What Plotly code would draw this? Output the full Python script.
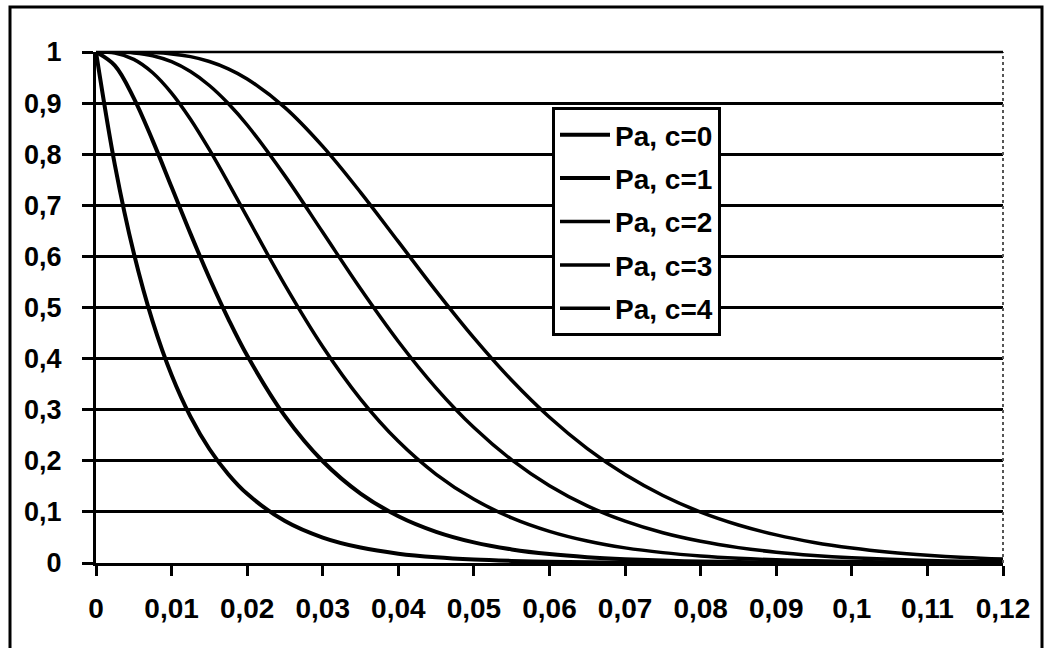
import plotly.graph_objects as go

# Fraction defective p
p = [0, 0.0025, 0.005, 0.0075, 0.01, 0.0125, 0.015, 0.0175, 0.02, 0.025, 0.03, 0.035,
     0.04, 0.045, 0.05, 0.055, 0.06, 0.065, 0.07, 0.075, 0.08, 0.085, 0.09, 0.095,
     0.1, 0.105, 0.11, 0.115, 0.12]

# Probability of acceptance for acceptance numbers c = 0..4
pa_c0 = [1, 0.7788, 0.6065, 0.4724, 0.3679, 0.2865, 0.2231, 0.1738, 0.1353, 0.0821, 0.0498, 0.0302,
         0.0183, 0.0111, 0.0067, 0.0041, 0.0025, 0.0015, 0.0009, 0.0006, 0.0003, 0.0002, 0.0001, 0.0001,
         0, 0, 0, 0, 0]
pa_c1 = [1, 0.9735, 0.9098, 0.8266, 0.7358, 0.6446, 0.5578, 0.4779, 0.4060, 0.2873, 0.1991, 0.1359,
         0.0916, 0.0611, 0.0404, 0.0266, 0.0174, 0.0113, 0.0073, 0.0047, 0.0030, 0.0019, 0.0012, 0.0008,
         0.0005, 0.0003, 0.0002, 0.0001, 0.0001]
pa_c2 = [1, 0.9978, 0.9856, 0.9595, 0.9197, 0.8685, 0.8088, 0.7440, 0.6767, 0.5438, 0.4232, 0.3208,
         0.2381, 0.1736, 0.1247, 0.0884, 0.0620, 0.0430, 0.0296, 0.0203, 0.0138, 0.0093, 0.0062, 0.0042,
         0.0028, 0.0018, 0.0012, 0.0008, 0.0005]
pa_c3 = [1, 0.9999, 0.9982, 0.9927, 0.9810, 0.9617, 0.9344, 0.8992, 0.8571, 0.7576, 0.6472, 0.5366,
         0.4335, 0.3423, 0.2650, 0.2017, 0.1512, 0.1118, 0.0818, 0.0591, 0.0424, 0.0301, 0.0212, 0.0149,
         0.0103, 0.0071, 0.0049, 0.0034, 0.0023]
pa_c4 = [1, 1.0, 0.9998, 0.9989, 0.9963, 0.9909, 0.9814, 0.9671, 0.9473, 0.8912, 0.8153, 0.7254,
         0.6288, 0.5321, 0.4405, 0.3575, 0.2851, 0.2237, 0.1730, 0.1321, 0.0996, 0.0744, 0.0550, 0.0403,
         0.0293, 0.0211, 0.0151, 0.0107, 0.0076]

series_names = ["Pa, c=0", "Pa, c=1", "Pa, c=2", "Pa, c=3", "Pa, c=4"]
series_values = [pa_c0, pa_c1, pa_c2, pa_c3, pa_c4]
line_widths = [4, 4, 3.5, 3.5, 3.5]

x_tickvals = [0, 0.01, 0.02, 0.03, 0.04, 0.05, 0.06, 0.07, 0.08, 0.09, 0.1, 0.11, 0.12]
x_ticktext = ["0", "0,01", "0,02", "0,03", "0,04", "0,05", "0,06", "0,07", "0,08", "0,09", "0,1", "0,11", "0,12"]
y_tickvals = [0, 0.1, 0.2, 0.3, 0.4, 0.5, 0.6, 0.7, 0.8, 0.9, 1]
y_ticktext = ["0", "0,1", "0,2", "0,3", "0,4", "0,5", "0,6", "0,7", "0,8", "0,9", "1"]

fig = go.Figure()
for i, (name, vals) in enumerate(zip(series_names, series_values)):
    fig.add_trace(go.Scatter(
        x=p, y=vals, mode="lines", name=name, legendgroup=f"g{i}",
        line=dict(color="black", width=line_widths[i], shape="spline", smoothing=1.0),
    ))

W, H = 1047, 648
L, R, T, B = 96, 1003, 52, 563

def px_x(v):
    return (v - L) / (R - L)

def px_y(v):
    return (B - v) / (B - T)

fig.update_layout(
    width=W, height=H,
    margin=dict(l=L, r=W - R, t=T, b=H - B),
    paper_bgcolor="white", plot_bgcolor="white",
    showlegend=True,
    legend=dict(
        x=px_x(552), y=px_y(107), xanchor="left", yanchor="top",
        bgcolor="white", bordercolor="black", borderwidth=3,
        font=dict(family="Liberation Sans", size=28, color="black", weight="bold"),
        traceorder="grouped", tracegroupgap=4, itemwidth=50,
    ),
    xaxis=dict(
        range=[0, 0.12], tickvals=x_tickvals, ticktext=x_ticktext,
        showgrid=False, zeroline=False,
        showline=True, linecolor="black", linewidth=3,
        ticks="outside", ticklen=10, tickwidth=3, tickcolor="black",
        tickfont=dict(family="Liberation Sans", size=28, color="black", weight="bold"),
        ticklabelstandoff=8,
    ),
    yaxis=dict(
        range=[0, 1], tickvals=y_tickvals, ticktext=y_ticktext,
        showgrid=True, gridcolor="black", gridwidth=2.5, zeroline=False,
        showline=True, linecolor="black", linewidth=3,
        ticks="outside", ticklen=11, tickwidth=2.5, tickcolor="black",
        tickfont=dict(family="Liberation Sans", size=27, color="black", weight="bold"),
        ticklabelstandoff=15,
    ),
    shapes=[
        dict(type="rect", xref="paper", yref="paper",
             x0=px_x(10), x1=px_x(1042), y0=px_y(660), y1=px_y(7),
             line=dict(color="black", width=3), fillcolor="rgba(0,0,0,0)", layer="below"),
        dict(type="line", xref="paper", yref="paper", x0=1, x1=1, y0=0, y1=1,
             line=dict(color="#555555", width=2, dash="dot")),
        dict(type="line", xref="paper", yref="paper", x0=0, x1=1, y0=1, y1=1,
             line=dict(color="black", width=2.5)),
    ],
)

fig.write_html("out.html")
